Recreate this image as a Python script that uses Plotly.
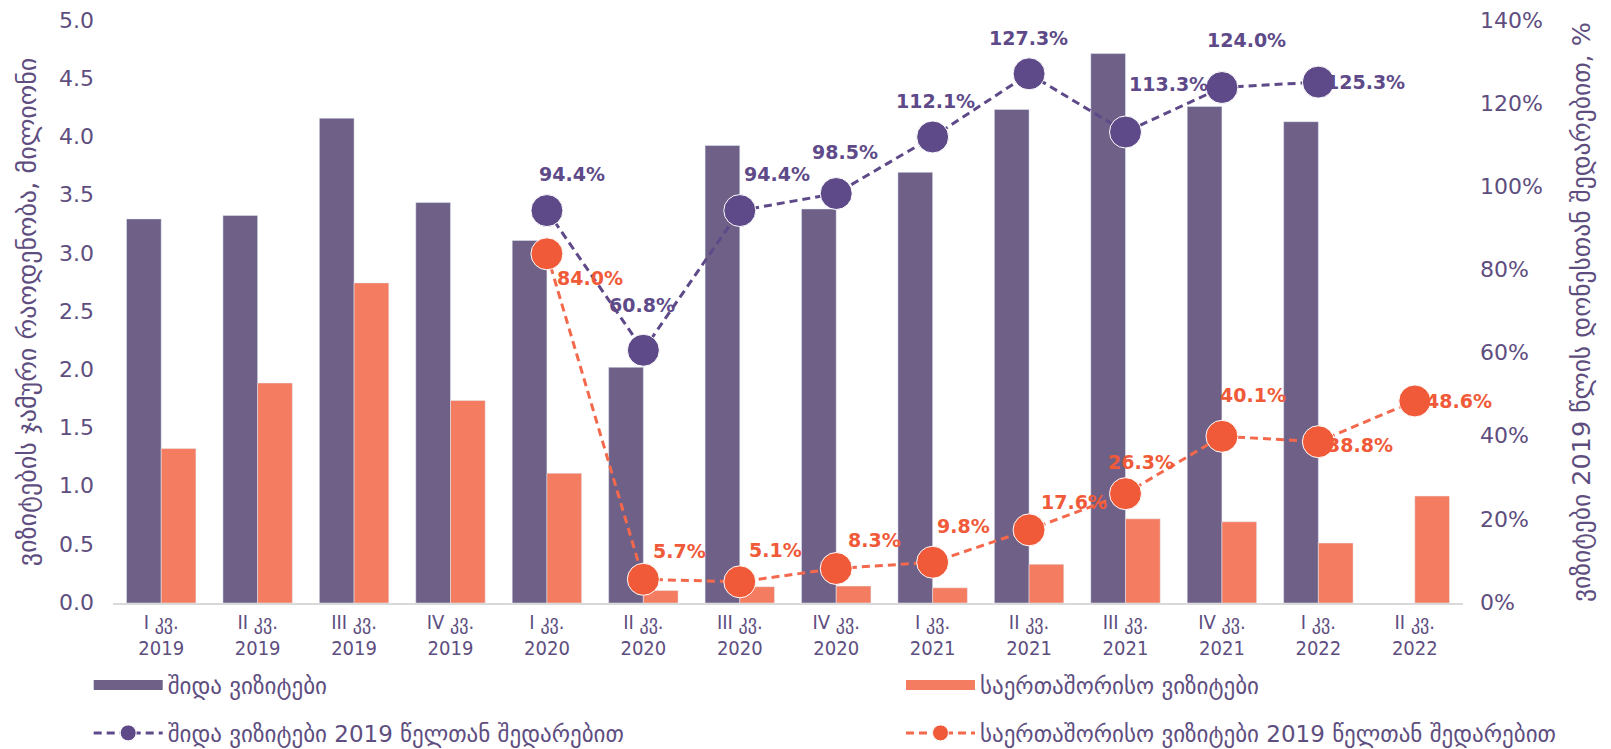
import plotly.graph_objects as go

# ---- data ----
quarters = ["I კვ.<br>2019", "II კვ.<br>2019", "III კვ.<br>2019", "IV კვ.<br>2019",
            "I კვ.<br>2020", "II კვ.<br>2020", "III კვ.<br>2020", "IV კვ.<br>2020",
            "I კვ.<br>2021", "II კვ.<br>2021", "III კვ.<br>2021", "IV კვ.<br>2021",
            "I კვ.<br>2022", "II კვ.<br>2022"]
domestic = [3.30, 3.33, 4.165, 3.44, 3.115, 2.025, 3.93, 3.385, 3.70, 4.24, 4.72, 4.265, 4.135, None]
international = [1.327, 1.89, 2.75, 1.74, 1.115, 0.107, 0.14, 0.145, 0.13, 0.333, 0.723, 0.698, 0.515, 0.919]
domestic_pct = [None, None, None, None, 94.4, 60.8, 94.4, 98.5, 112.1, 127.3, 113.3, 124.0, 125.3, None]
international_pct = [None, None, None, None, 84.0, 5.7, 5.1, 8.3, 9.8, 17.6, 26.3, 40.1, 38.8, 48.6]

names = ["შიდა ვიზიტები", "საერთაშორისო ვიზიტები",
         "შიდა ვიზიტები 2019 წელთან შედარებით", "საერთაშორისო ვიზიტები 2019 წელთან შედარებით"]
y_title = "ვიზიტების ჯამური რაოდენობა, მილიონი"
y2_title = "ვიზიტები 2019 წლის დონესთან შედარებით, %"

# ---- label offsets (pixels) ----
dom_off = [None, None, None, None, (25, 37), (-1, 45), (37, 37), (9, 42), (3, 36),
           (-1, 36), (43, 48), (25, 48), (47, 0), None]
int_off = [None, None, None, None, (43, -24), (36, 28), (36, 32), (38, 29), (31, 36),
           (45, 28), (15, 32), (31, 41), (42, -3), (44, 0)]

C_PUR_BAR = "#6E6087"
C_ORG_BAR = "#F47C60"
C_PUR = "#5E4A89"
C_ORG = "#F05A38"
C_ORG_LINE = "#F4694C"
C_TXT = "#5E4E80"

NARROW = "Liberation Sans Narrow, DejaVu Sans Condensed"
LEGEND_FONT = "Liberation Sans Narrow, DejaVu Sans"

fig = go.Figure()
fig.add_trace(go.Bar(x=quarters, y=domestic, marker_color=C_PUR_BAR, name=names[0],
                     showlegend=False))
fig.add_trace(go.Bar(x=quarters, y=international, marker_color=C_ORG_BAR, name=names[1],
                     showlegend=False))
# legend entries styled as wide bars
fig.add_trace(go.Scatter(x=[None], y=[None], mode="lines", line=dict(color=C_PUR_BAR, width=13),
                         name=names[0], legend="legend", legendgroup="a"))
fig.add_trace(go.Scatter(x=[None], y=[None], mode="lines", line=dict(color=C_ORG_BAR, width=13),
                         name=names[1], legend="legend2", legendgroup="c"))
fig.add_trace(go.Scatter(x=quarters, y=domestic_pct, yaxis="y2", mode="lines+markers",
                         name=names[2], legend="legend", legendgroup="b",
                         line=dict(color=C_PUR, width=3, dash="8px,5px"),
                         marker=dict(size=32, color=C_PUR, line=dict(color="white", width=1))))
fig.add_trace(go.Scatter(x=quarters, y=international_pct, yaxis="y2", mode="lines+markers",
                         name=names[3], legend="legend2", legendgroup="d",
                         line=dict(color=C_ORG_LINE, width=3, dash="8px,5px"),
                         marker=dict(size=32, color=C_ORG, line=dict(color="white", width=1))))

annotations = []
for q, v, off in zip(quarters, domestic_pct, dom_off):
    if v is None:
        continue
    annotations.append(dict(x=q, y=v, xref="x", yref="y2", text=f"{v:.1f}%", showarrow=False,
                            xshift=off[0], yshift=off[1],
                            font=dict(family="DejaVu Sans", size=19, color=C_PUR, weight="bold")))
for q, v, off in zip(quarters, international_pct, int_off):
    if v is None:
        continue
    annotations.append(dict(x=q, y=v, xref="x", yref="y2", text=f"{v:.1f}%", showarrow=False,
                            xshift=off[0], yshift=off[1],
                            font=dict(family="DejaVu Sans", size=19, color=C_ORG, weight="bold")))

legend_common = dict(orientation="v", xanchor="left", yanchor="top", y=-0.104,
                     tracegroupgap=15, bgcolor="rgba(0,0,0,0)", itemwidth=69,
                     font=dict(family=LEGEND_FONT, size=23, color=C_TXT))

fig.update_layout(
    width=1603, height=741,
    margin=dict(l=105, r=148, t=13, b=146, autoexpand=False),
    paper_bgcolor="white", plot_bgcolor="white",
    barmode="group", bargap=0.28, bargroupgap=0,
    font=dict(family="DejaVu Sans", color=C_TXT, size=18),
    xaxis=dict(showgrid=False, showline=True, linecolor="#D9D9D9", linewidth=2,
               ticks="", automargin=False, range=[-0.5, 13.5],
               tickfont=dict(family=NARROW, size=20, color=C_TXT)),
    yaxis=dict(range=[0, 5], dtick=0.5, tickformat=".1f", showgrid=False, zeroline=False,
               automargin=False, ticklabelstandoff=18, ticklabeloverflow="allow",
               ticklabelshift=-1,
               tickfont=dict(size=22, color=C_TXT),
               title=dict(text=y_title, font=dict(family="DejaVu Sans", size=26, color=C_TXT),
                          standoff=14)),
    yaxis2=dict(range=[0, 140], dtick=20, ticksuffix="%", overlaying="y", side="right",
                automargin=False, showgrid=False, zeroline=False, ticklabelstandoff=16,
                ticklabeloverflow="allow", ticklabelshift=-1,
                tickfont=dict(size=22, color=C_TXT),
                title=dict(text=y2_title, font=dict(family="DejaVu Sans", size=25.5, color=C_TXT),
                           standoff=30)),
    legend=dict(x=-0.018, **legend_common),
    legend2=dict(x=0.5837, **legend_common),
    annotations=annotations,
)

fig.write_html("out.html")
